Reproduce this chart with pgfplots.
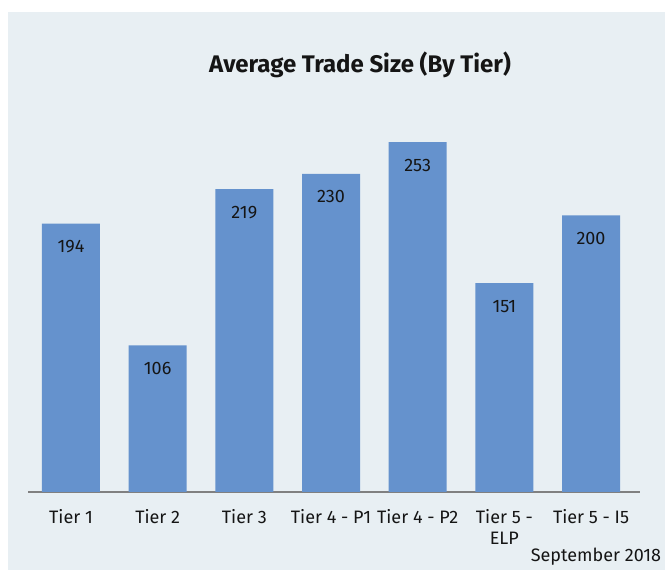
\documentclass[border=0pt]{standalone}
\usepackage{pgfplots}
\pgfplotsset{compat=1.18}
\usepackage{fontspec}
\setmainfont{Fira Sans}
\definecolor{bgc}{HTML}{E8EFF3}
\definecolor{barc}{HTML}{6592CD}
\definecolor{basec}{HTML}{808080}
\definecolor{txt}{HTML}{151515}
\begin{document}
\begin{tikzpicture}
\useasboundingbox (0,0) rectangle (498.75pt,427.5pt);
\fill[bgc] (6pt,0) rectangle (498.75pt,418.5pt);
\begin{axis}[
  at={(21pt,58.5pt)}, anchor=south west,
  scale only axis, width=459pt, height=311.25pt,
  xmin=-0.496, xmax=6.565, ymin=0, ymax=300,
  axis x line=bottom, axis y line=none,
  x axis line style={basec, line width=1.6pt, -},
  xtick=data, xtick style={draw=none},
  xticklabels={Tier 1, Tier 2, Tier 3, Tier 4 - P1, Tier 4 - P2, {Tier 5 -\\ELP}, Tier 5 - I5},
  xticklabel style={align=center, font=\fontsize{13.5}{16}\selectfont, text=txt, anchor=north, yshift=-5pt},
  ytick=\empty,
  /pgf/number format/assume math mode=true,
  ybar, bar width=43.5pt,
  nodes near coords,
  every node near coord/.append style={anchor=north, inner sep=0pt, yshift=-12.5pt, font=\fontsize{13.5}{16}\selectfont, text=txt},
  clip=false,
]
\addplot[fill=barc, draw=none] coordinates {(0,194) (1,106) (2,219) (3,230) (4,253) (5,151) (6,200)};
\end{axis}
\node[font=\bfseries\fontsize{18}{20}\selectfont, text=txt] at (270pt,378.75pt) {Average Trade Size (By Tier)};
\node[anchor=south east, inner sep=0pt, font=\fontsize{13.5}{16}\selectfont, text=txt] at (496pt,3pt) {September 2018};
\end{tikzpicture}
\end{document}
